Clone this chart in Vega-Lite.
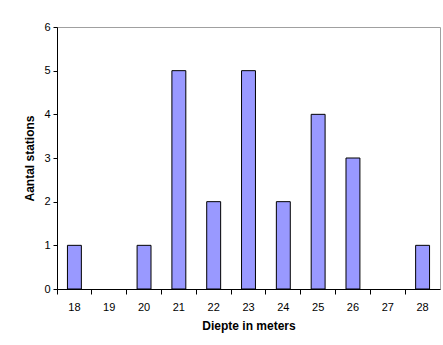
{
  "$schema": "https://vega.github.io/schema/vega-lite/v6.json",
  "width": 383,
  "height": 262,
  "autosize": "none",
  "padding": {"left": 57, "top": 27, "right": 3, "bottom": 56},
  "background": "white",
  "config": {
    "view": {"stroke": "#a0a0a0", "strokeWidth": 1},
    "font": "Liberation Sans",
    "axis": {
      "labelFont": "Liberation Sans",
      "titleFont": "Liberation Sans",
      "labelFontSize": 11,
      "titleFontSize": 12,
      "titleFontWeight": "bold",
      "labelColor": "black",
      "titleColor": "black",
      "domainColor": "black",
      "tickColor": "black",
      "grid": false
    }
  },
  "data": {
    "values": [
      {"diepte": "18", "aantal": 1},
      {"diepte": "19", "aantal": 0},
      {"diepte": "20", "aantal": 1},
      {"diepte": "21", "aantal": 5},
      {"diepte": "22", "aantal": 2},
      {"diepte": "23", "aantal": 5},
      {"diepte": "24", "aantal": 2},
      {"diepte": "25", "aantal": 4},
      {"diepte": "26", "aantal": 3},
      {"diepte": "27", "aantal": 0},
      {"diepte": "28", "aantal": 1}
    ]
  },
  "transform": [{"filter": "datum.aantal > 0"}],
  "mark": {"type": "bar", "fill": "#9999ff", "stroke": "black", "strokeWidth": 1, "width": {"band": 0.4}},
  "encoding": {
    "x": {
      "field": "diepte",
      "type": "ordinal",
      "scale": {"domain": ["18", "19", "20", "21", "22", "23", "24", "25", "26", "27", "28"], "paddingInner": 0, "paddingOuter": 0},
      "axis": {
        "title": "Diepte in meters",
        "labelAngle": 0,
        "bandPosition": 0,
        "tickSize": 5,
        "labelPadding": 7,
        "titlePadding": 8
      }
    },
    "y": {
      "field": "aantal",
      "type": "quantitative",
      "scale": {"domain": [0, 6]},
      "axis": {
        "title": "Aantal stations",
        "values": [0, 1, 2, 3, 4, 5, 6],
        "format": "d",
        "tickSize": 4,
        "labelPadding": 3,
        "titlePadding": 7
      }
    }
  }
}
